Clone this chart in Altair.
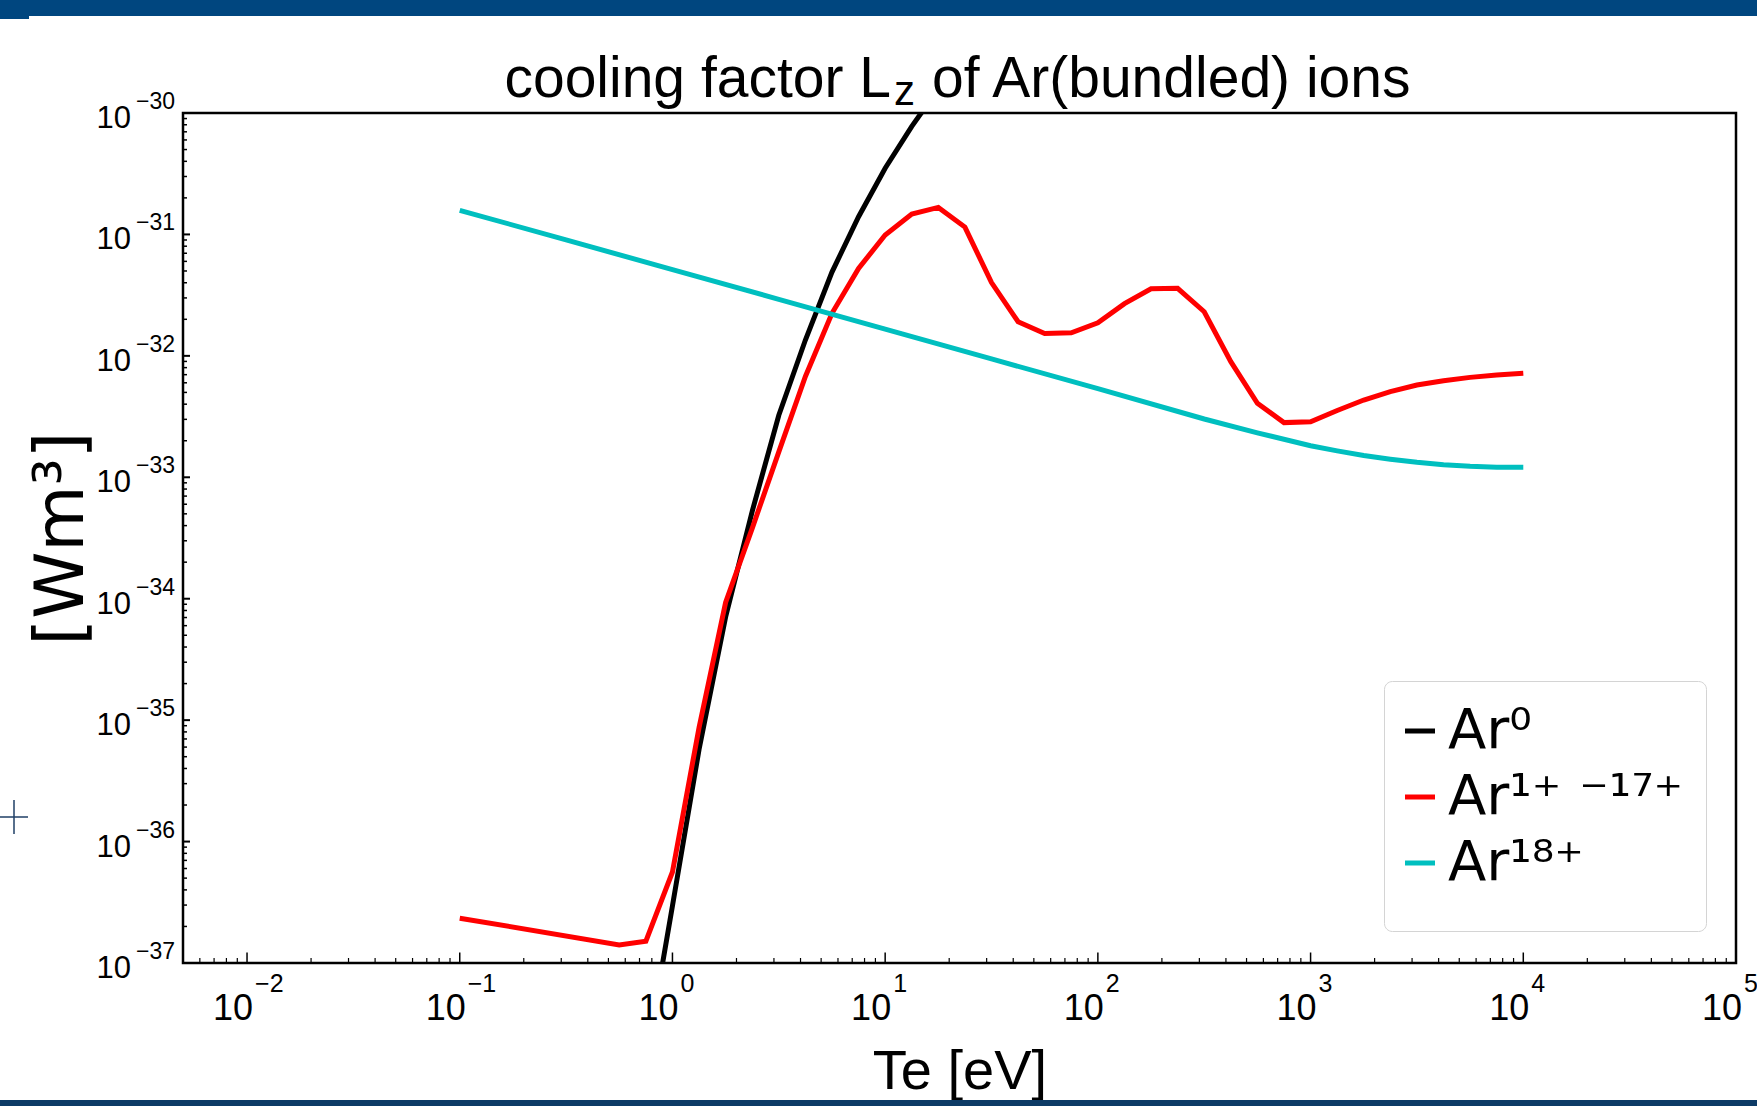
import altair as alt
import pandas as pd

# ---------------- data ----------------
SP_AR0 = "Ar\u2070"
SP_AR1 = "Ar\u00b9\u207a \u207b\u00b9\u2077\u207a"
SP_AR18 = "Ar\u00b9\u2078\u207a"
SPECIES = [SP_AR0, SP_AR1, SP_AR18]
COLORS = ["#000000", "#ff0000", "#00bfbf"]

TE_AR0 = [0.750, 1.0, 1.334, 1.778, 2.371, 3.162, 4.217, 5.623, 7.499, 10.0, 13.34, 17.78]
LZ_AR0 = [1.58e-38, 2.95e-37, 5.75e-36, 7.08e-35, 5.25e-34, 3.24e-33, 1.35e-32,
          4.90e-32, 1.40e-31, 3.51e-31, 7.76e-31, 1.58e-30]

TE_AR1 = [0.1, 0.562, 0.750, 1.0, 1.334, 1.778, 2.371, 3.162, 4.217, 5.623, 7.499,
          10.0, 13.34, 17.78, 23.71, 31.62, 42.17, 56.23, 74.99, 100.0, 133.4, 177.8,
          237.1, 316.2, 421.7, 562.3, 749.9, 1000.0, 1334.0, 1778.0, 2371.0, 3162.0,
          4217.0, 5623.0, 7499.0, 10000.0]
LZ_AR1 = [2.34e-37, 1.41e-37, 1.51e-37, 5.62e-37, 8.71e-36, 9.33e-35, 3.80e-34,
          1.62e-33, 6.76e-33, 2.24e-32, 5.25e-32, 9.89e-32, 1.47e-31, 1.67e-31,
          1.15e-31, 4.01e-32, 1.91e-32, 1.53e-32, 1.55e-32, 1.87e-32, 2.69e-32,
          3.57e-32, 3.60e-32, 2.31e-32, 8.95e-33, 4.07e-33, 2.82e-33, 2.87e-33,
          3.55e-33, 4.33e-33, 5.07e-33, 5.75e-33, 6.24e-33, 6.65e-33, 6.95e-33, 7.18e-33]

TE_AR18 = [0.1, 0.3162, 1.0, 3.162, 10.0, 31.62, 100.0, 316.2, 562.3, 1000.0,
           1334.0, 1778.0, 2371.0, 3162.0, 4217.0, 5623.0, 7499.0, 10000.0]
LZ_AR18 = [1.58e-31, 9.02e-32, 5.13e-32, 2.92e-32, 1.66e-32, 9.44e-33, 5.37e-33,
           3.02e-33, 2.32e-33, 1.82e-33, 1.65e-33, 1.51e-33, 1.41e-33, 1.33e-33,
           1.27e-33, 1.23e-33, 1.21e-33, 1.21e-33]

# axis ticks / labels
X_MAJOR = [1e-2, 1e-1, 1e0, 1e1, 1e2, 1e3, 1e4, 1e5]
X_EXP = ["\u22122", "\u22121", "0", "1", "2", "3", "4", "5"]
X_MINOR = [m * 10.0 ** k for k in range(-3, 5) for m in range(2, 10)
           if 5e-3 <= m * 10.0 ** k <= 1e5]
Y_MAJOR = [1e-30, 1e-31, 1e-32, 1e-33, 1e-34, 1e-35, 1e-36, 1e-37]
Y_EXP = ["\u221230", "\u221231", "\u221232", "\u221233", "\u221234", "\u221235",
         "\u221236", "\u221237"]
Y_MINOR = [m * 10.0 ** k for k in range(-37, -30) for m in range(2, 10)]

TITLE_MAIN = "cooling factor L"
TITLE_SUB = "z"
TITLE_REST = "of Ar(bundled) ions"
X_TITLE = "Te [eV]"
Y_TITLE = "[Wm\u00b3]"

# ---------------- build ----------------
W, H = 1553, 850
SANS = "Liberation Sans, Arial, Helvetica, sans-serif"

df = pd.concat([
    pd.DataFrame({"Te": TE_AR0, "Lz": LZ_AR0, "species": SP_AR0}),
    pd.DataFrame({"Te": TE_AR1, "Lz": LZ_AR1, "species": SP_AR1}),
    pd.DataFrame({"Te": TE_AR18, "Lz": LZ_AR18, "species": SP_AR18}),
], ignore_index=True)

xscale = alt.Scale(type="log", domain=[5e-3, 1e5], nice=False)
yscale = alt.Scale(type="log", domain=[1e-37, 1e-30], nice=False)

lines = alt.Chart(df).mark_line(clip=True, strokeWidth=5).encode(
    x=alt.X("Te:Q", scale=xscale,
            axis=alt.Axis(labels=False, ticks=False, domain=False, grid=False,
                          title=X_TITLE, titleFont=SANS, titleFontSize=56,
                          titleFontWeight="normal", titleColor="black",
                          titleX=W / 2, titleY=125, titleAlign="center",
                          titleBaseline="alphabetic")),
    y=alt.Y("Lz:Q", scale=yscale,
            axis=alt.Axis(labels=False, ticks=False, domain=False, grid=False,
                          title=Y_TITLE, titleFont="DejaVu Sans", titleFontSize=68,
                          titleFontWeight="normal", titleColor="black",
                          titleX=-101, titleY=H / 2, titleAngle=270,
                          titleAlign="center", titleBaseline="alphabetic")),
    color=alt.Color("species:N", sort=SPECIES,
                    scale=alt.Scale(domain=SPECIES, range=COLORS),
                    legend=alt.Legend(orient="none", legendX=1201, legendY=568,
                                      title=" ", titleOrient="bottom",
                                      titleFontSize=16, titlePadding=2,
                                      symbolType="stroke", symbolOffset=-14,
                                      symbolStrokeWidth=5, symbolSize=900,
                                      labelFont="DejaVu Sans", labelFontSize=56,
                                      labelColor="black", labelOffset=0,
                                      labelLimit=400,
                                      padding=22, rowPadding=10, cornerRadius=8,
                                      strokeColor="#d4d4d4", fillColor="white")),
)

xmaj_df = pd.DataFrame({"Te": X_MAJOR, "exp": X_EXP, "base": "10"})
ymaj_df = pd.DataFrame({"Lz": Y_MAJOR, "exp": Y_EXP, "base": "10"})
xmin_df = pd.DataFrame({"Te": X_MINOR})
ymin_df = pd.DataFrame({"Lz": Y_MINOR})

xmaj_ticks = alt.Chart(xmaj_df).mark_rule(color="black", strokeWidth=1.5).encode(
    x=alt.X("Te:Q", scale=xscale), y=alt.value(H), y2=alt.value(H - 10.5))
xmin_ticks = alt.Chart(xmin_df).mark_rule(color="black", strokeWidth=1.2).encode(
    x=alt.X("Te:Q", scale=xscale), y=alt.value(H), y2=alt.value(H - 5))
ymaj_ticks = alt.Chart(ymaj_df).mark_rule(color="black", strokeWidth=2).encode(
    y=alt.Y("Lz:Q", scale=yscale), x=alt.value(0), x2=alt.value(7))
ymin_ticks = alt.Chart(ymin_df).mark_rule(color="black", strokeWidth=1.5).encode(
    y=alt.Y("Lz:Q", scale=yscale), x=alt.value(0), x2=alt.value(4))

xlab_base = alt.Chart(xmaj_df).mark_text(
    align="right", baseline="alphabetic", dx=6, font=SANS, fontSize=36,
    color="black").encode(x=alt.X("Te:Q", scale=xscale), y=alt.value(H + 57),
                          text="base:N")
xlab_exp = alt.Chart(xmaj_df).mark_text(
    align="left", baseline="alphabetic", dx=8, font=SANS, fontSize=25,
    color="black").encode(x=alt.X("Te:Q", scale=xscale), y=alt.value(H + 29),
                          text="exp:N")
ylab_base = alt.Chart(ymaj_df).mark_text(
    align="right", baseline="alphabetic", dy=15, font=SANS, fontSize=31,
    color="black").encode(y=alt.Y("Lz:Q", scale=yscale), x=alt.value(-52),
                          text="base:N")
ylab_exp = alt.Chart(ymaj_df).mark_text(
    align="left", baseline="alphabetic", dy=-4, font=SANS, fontSize=23,
    color="black").encode(y=alt.Y("Lz:Q", scale=yscale), x=alt.value(-47),
                          text="exp:N")

one = pd.DataFrame({"a": [0]})
t_main = alt.Chart(one).mark_text(
    text=TITLE_MAIN, align="right", baseline="alphabetic", font=SANS,
    fontSize=57, color="black").encode(x=alt.value(708), y=alt.value(-16))
t_sub = alt.Chart(one).mark_text(
    text=TITLE_SUB, align="left", baseline="alphabetic", font=SANS,
    fontSize=42, color="black").encode(x=alt.value(711), y=alt.value(-8))
t_rest = alt.Chart(one).mark_text(
    text=TITLE_REST, align="left", baseline="alphabetic", font=SANS,
    fontSize=57, color="black").encode(x=alt.value(749), y=alt.value(-16))

# slide decorations (page chrome around the figure)
top_bar = alt.Chart(one).mark_rect(color="#00467f").encode(
    x=alt.value(-183), x2=alt.value(1574), y=alt.value(-113), y2=alt.value(-97))
top_notch = alt.Chart(one).mark_rect(color="#00467f").encode(
    x=alt.value(-183), x2=alt.value(-154), y=alt.value(-113), y2=alt.value(-94))
bottom_bar = alt.Chart(one).mark_rect(color="#0d3b66").encode(
    x=alt.value(-183), x2=alt.value(1574), y=alt.value(987), y2=alt.value(993))
cross_h = alt.Chart(one).mark_rule(color="#1f3f66", strokeWidth=1.5).encode(
    x=alt.value(-183), x2=alt.value(-155), y=alt.value(704))
cross_v = alt.Chart(one).mark_rule(color="#1f3f66", strokeWidth=1.5).encode(
    x=alt.value(-169), y=alt.value(687), y2=alt.value(721))

chart = alt.layer(
    lines, xmaj_ticks, xmin_ticks, ymaj_ticks, ymin_ticks,
    xlab_base, xlab_exp, ylab_base, ylab_exp,
    t_main, t_sub, t_rest,
    top_bar, top_notch, bottom_bar, cross_h, cross_v,
).properties(
    width=W, height=H,
    autosize=alt.AutoSizeParams(type="none"),
    padding={"left": 183, "top": 113, "right": 21, "bottom": 143},
    background="white",
).configure_view(
    stroke="black", strokeWidth=2.5, fill="white"
)

chart.save("out.html", embed_options={"renderer": "svg", "actions": False})
